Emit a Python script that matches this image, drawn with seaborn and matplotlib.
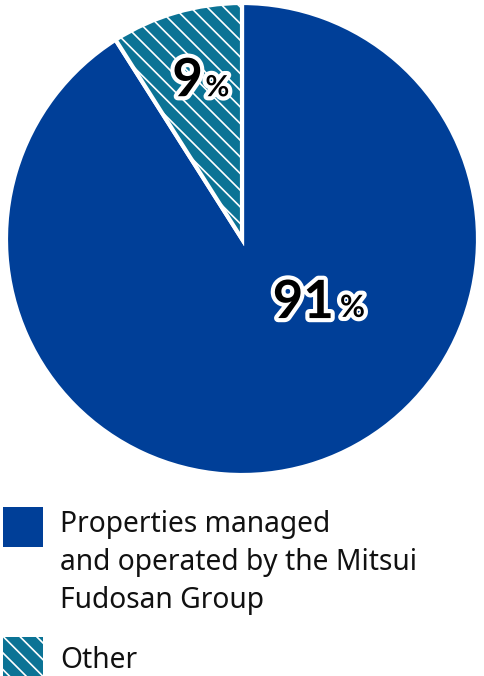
import matplotlib
matplotlib.use("Agg")
import matplotlib.pyplot as plt
import matplotlib.patheffects as pe
from matplotlib.patches import Rectangle
import seaborn as sns

categories = ["Properties managed\nand operated by the Mitsui\nFudosan Group", "Other"]
shares = [91, 9]
label_nums = ["91", "9"]
colors = ["#003f98", "#0b7395"]
hatches = ["", "\\\\"]

sns.set_theme(style="white")
plt.rcParams["font.family"] = ["Noto Sans", "DejaVu Sans"]
plt.rcParams["hatch.linewidth"] = 1.2

W, H = 484, 676
fig = plt.figure(figsize=(W / 100, H / 100), dpi=100)
cx, cy, r = 242, 239, 236
ax = fig.add_axes([(cx - r) / W, (H - cy - r) / H, 2 * r / W, 2 * r / H])

wedges, _ = ax.pie(shares, colors=colors, startangle=90, counterclock=False,
                   wedgeprops=dict(edgecolor="white", linewidth=3))
for w, h in zip(wedges, hatches):
    w.set_hatch(h)
ax.set_xlim(-1, 1)
ax.set_ylim(-1, 1)
ax.set_aspect("equal")
ax.axis("off")

numfont = dict(family=["Lato", "DejaVu Sans"], fontweight="bold", color="black")
stroke = [pe.withStroke(linewidth=6, foreground="white")]
# 91% label
ax.text(0.39, -0.335, label_nums[0], ha="right", va="baseline", fontsize=38,
        path_effects=stroke, **numfont)
ax.text(0.415, -0.33, "%", ha="left", va="baseline", fontsize=22,
        path_effects=stroke, **numfont)
# 9% label
ax.text(-0.165, 0.605, label_nums[1], ha="right", va="baseline", fontsize=38,
        path_effects=stroke, **numfont)
ax.text(-0.155, 0.605, "%", ha="left", va="baseline", fontsize=21,
        path_effects=stroke, **numfont)

# legend (manual)
box_y = [507, 637]
first_base = [532, 668]
line_gap = 38
for i, lab in enumerate(categories):
    y0 = box_y[i]
    rect = Rectangle((3 / W, 1 - (y0 + 40) / H), 40 / W, 40 / H, transform=fig.transFigure,
                     facecolor=colors[i], edgecolor="white", linewidth=0, hatch=hatches[i])
    fig.add_artist(rect)
    for j, line in enumerate(lab.split("\n")):
        fig.text(60 / W, 1 - (first_base[i] + j * line_gap) / H, line, ha="left",
                 va="baseline", fontsize=20.3, color="#111111")

fig.savefig("out.png", dpi=100)
